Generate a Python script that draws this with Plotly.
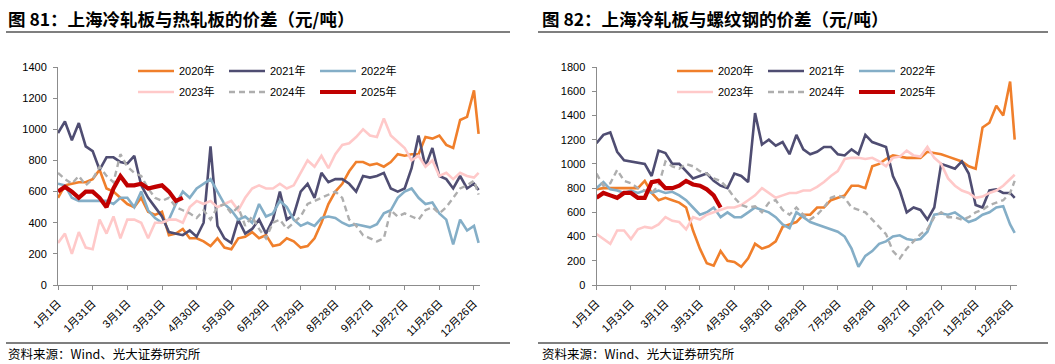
import plotly.graph_objects as go

W, H = 1055, 364

# x positions: day of year (leap-year base), sampled every 6 days + last day
DAYS = [0, 6, 12, 18, 24, 30, 36, 42, 48, 54,
        60, 66, 72, 78, 84, 90, 96, 102, 108, 114,
        120, 126, 132, 138, 144, 150, 156, 162, 168, 174,
        180, 186, 192, 198, 204, 210, 216, 222, 228, 234,
        240, 246, 252, 258, 264, 270, 276, 282, 288, 294,
        300, 306, 312, 318, 324, 330, 336, 342, 348, 354,
        360, 364]
DAYS_2025 = [0, 6, 12, 18, 24, 30, 36, 42, 48, 54,
             60, 66, 72, 78, 84, 90, 96, 102, 108]

TICK_DAYS = [0, 30, 60, 90, 120, 150, 180, 210, 240, 270, 300, 330, 360]
TICK_LABELS = ["1月1日", "1月31日", "3月1日", "3月31日", "4月30日", "5月30日",
               "6月29日", "7月29日", "8月28日", "9月27日", "10月27日",
               "11月26日", "12月26日"]

YEARS = ["2020年", "2021年", "2022年", "2023年", "2024年", "2025年"]

# ---- Chart 81: cold-rolled minus hot-rolled (Shanghai) ----
CR_HR_2020 = [560, 640, 650, 660, 660, 680, 740, 620, 600, 560,
              520, 500, 560, 470, 450, 470, 320, 330, 360, 300,
              300, 280, 250, 300, 240, 230, 300, 310, 340, 300,
              320, 250, 260, 300, 280, 240, 250, 300, 400, 520,
              600, 650, 730, 790, 790, 770, 780, 760, 790, 840,
              830, 840, 840, 950, 940, 960, 900, 880, 1060, 1080,
              1250, 970]
CR_HR_2021 = [976, 1050, 930, 1040, 890, 860, 740, 820, 820, 790,
              780, 830, 640, 560, 500, 440, 340, 330, 320, 350,
              310, 400, 890, 380, 300, 270, 420, 330, 360, 420,
              330, 420, 600, 420, 450, 600, 650, 560, 720, 660,
              680, 680, 650, 600, 700, 690, 700, 720, 620, 600,
              620, 750, 960, 760, 880, 700, 680, 620, 700, 620,
              650, 610]
CR_HR_2022 = [650, 640, 560, 540, 540, 540, 540, 540, 520, 560,
              560, 500, 600, 480, 430, 400, 420, 520, 600, 560,
              620, 650, 680, 600, 520, 480, 420, 440, 400, 520,
              440, 460, 540, 500, 420, 380, 400, 380, 430, 440,
              430, 400, 380, 390, 380, 370, 390, 460, 480, 560,
              600, 620, 560, 520, 530, 460, 420, 260, 420, 350,
              380, 270]
CR_HR_2023 = [270, 330, 200, 340, 240, 230, 420, 330, 440, 300,
              420, 420, 400, 300, 400, 400, 420, 420, 400, 500,
              540, 520, 540, 500, 520, 540, 480, 560, 620, 640,
              620, 620, 650, 620, 640, 720, 800, 760, 830, 750,
              840, 900, 910, 950, 1000, 960, 950, 1070, 960, 920,
              880, 800, 830, 760, 800, 700, 720, 680, 720, 700,
              690, 720]
CR_HR_2024 = [720, 680, 650, 700, 640, 680, 760, 700, 660, 840,
              760, 720, 700, 620, 560, 540, 560, 500, 480, 460,
              430, 480, 420, 500, 520, 460, 500, 380, 440, 360,
              300, 400, 420, 360, 400, 440, 520, 540, 560, 580,
              600, 560, 420, 380, 320, 300, 280, 300, 480, 440,
              460, 440, 420, 480, 500, 460, 500, 560, 620, 640,
              670, 580]
CR_HR_2025 = [600, 630, 600, 560, 600, 600, 560, 500, 620, 700,
              640, 640, 650, 620, 630, 640, 600, 540, 560]

# ---- Chart 82: cold-rolled minus rebar (Shanghai) ----
CR_RB_2020 = [790, 800, 800, 800, 800, 800, 800, 860, 760, 700,
              720, 700, 680, 640, 450, 300, 180, 160, 280, 200,
              190, 150, 220, 340, 300, 320, 360, 480, 500, 520,
              580, 580, 640, 640, 700, 720, 740, 820, 820, 800,
              980, 1000, 1040, 1070, 1060, 1050, 1050, 1050, 1100, 1090,
              1080, 1060, 1040, 1020, 980, 960, 1300, 1340, 1480, 1400,
              1680, 1200]
CR_RB_2021 = [1170, 1240, 1260, 1100, 1030, 1020, 1010, 1000, 900, 1110,
              1090, 1000, 1000, 940, 880, 900, 920, 860, 820, 800,
              920, 900, 850, 1420, 1160, 1200, 1150, 1180, 1080, 1240,
              1120, 1080, 1100, 1140, 1140, 1080, 1070, 1120, 1080, 1240,
              1180, 1160, 1140, 900, 780, 600, 640, 620, 540, 640,
              1000, 980, 960, 1020, 920, 660, 640, 780, 790, 760,
              760, 720]
CR_RB_2022 = [800, 850, 790, 780, 760, 780, 760, 780, 760, 780,
              760, 770, 740, 700, 640, 580, 600, 640, 560, 600,
              560, 560, 600, 640, 620, 600, 560, 500, 470, 600,
              560, 520, 500, 480, 460, 440, 400, 300, 150, 240,
              280, 340, 360, 400, 410, 380, 370, 380, 440, 580,
              590, 580, 600, 560, 520, 540, 580, 600, 640, 650,
              500, 430]
CR_RB_2023 = [420, 380, 340, 450, 450, 380, 460, 480, 470, 500,
              560, 530, 520, 460, 560, 540, 580, 600, 620, 640,
              640, 660, 700, 740, 800, 760, 720, 740, 760, 760,
              780, 780, 810, 850, 900, 940, 1040, 1050, 1050, 1040,
              1050, 1020, 980, 1050, 1060, 1110, 1070, 1060, 1140, 1050,
              1000, 880, 820, 780, 760, 720, 730, 760, 780, 820,
              870, 910]
CR_RB_2024 = [920, 820, 840, 950, 860, 840, 800, 780, 760, 820,
              1020, 980, 960, 1000, 980, 940, 920, 880, 860, 800,
              720, 660, 640, 650, 600, 680, 700, 620, 580, 640,
              580, 540, 580, 640, 720, 740, 720, 640, 620, 600,
              540, 480, 420, 280, 220, 300, 360, 420, 460, 560,
              600, 560, 560, 540, 560, 600, 620, 660, 680, 700,
              760, 860]
CR_RB_2025 = [720, 760, 740, 720, 760, 760, 720, 720, 850, 860,
              800, 800, 820, 860, 830, 820, 790, 740, 640]

COLORS = ["#F07F2B", "#4F4D72", "#84AEC7", "#FFC9C9", "#AEAEAE", "#C00000"]
WIDTHS = [2.6, 2.6, 2.6, 2.6, 2.4, 4.2]
DASHES = ["solid", "solid", "solid", "solid", "6px,4px", "solid"]

FONT = "Liberation Sans, Arial, Noto Sans CJK SC, sans-serif"
CJK = "Noto Sans CJK SC, sans-serif"

fig = go.Figure()

charts = [
    (["x", "y"], [CR_HR_2020, CR_HR_2021, CR_HR_2022, CR_HR_2023, CR_HR_2024, CR_HR_2025], ("legend", "legend2")),
    (["x2", "y2"], [CR_RB_2020, CR_RB_2021, CR_RB_2022, CR_RB_2023, CR_RB_2024, CR_RB_2025], ("legend3", "legend4")),
]
for (xa, ya), series, (lg1, lg2) in charts:
    for i, (name, vals) in enumerate(zip(YEARS, series)):
        xs = DAYS_2025 if i == 5 else DAYS
        fig.add_trace(go.Scatter(
            x=xs, y=vals, name=name, mode="lines", xaxis=xa, yaxis=ya,
            line=dict(color=COLORS[i], width=WIDTHS[i], dash=DASHES[i]),
            legend=lg1 if i < 3 else lg2, hoverinfo="skip"))

def px(x):
    return x / W

def py(y):
    return 1 - y / H

axis_common = dict(showgrid=False, zeroline=False, showline=True, linecolor="#8C8C8C",
                   linewidth=1, ticks="outside", ticklen=4, tickcolor="#8C8C8C",
                   automargin=False,
                   tickfont=dict(family=FONT, size=11, color="#000000"))

xcommon = dict(axis_common, tickvals=TICK_DAYS, ticktext=TICK_LABELS, tickangle=-45,
               ticklabelstandoff=3)

fig.update_layout(
    template="none",
    width=W, height=H, margin=dict(l=0, r=0, t=0, b=0, pad=0, autoexpand=False),
    paper_bgcolor="white", plot_bgcolor="white",
    xaxis=dict(xcommon, domain=[px(58), px(480)], range=[0, 365.2], anchor="y"),
    yaxis=dict(axis_common, domain=[py(285), py(67)], range=[0, 1400], dtick=200, anchor="x",
               ticklabelstandoff=4),
    xaxis2=dict(xcommon, domain=[px(596.5), px(1017)], range=[0, 366], anchor="y2"),
    yaxis2=dict(axis_common, domain=[py(285), py(67)], range=[0, 1800], dtick=200, anchor="x2",
                ticklabelstandoff=4),
    showlegend=True,
)

leg_common = dict(orientation="h", bgcolor="rgba(0,0,0,0)", borderwidth=0,
                  font=dict(family=FONT, size=11, color="#000000"),
                  xanchor="left", yanchor="middle", entrywidth=40, entrywidthmode="pixels",
                  itemwidth=36, tracegroupgap=0)
fig.update_layout(
    legend=dict(leg_common, x=px(133), y=py(71)),
    legend2=dict(leg_common, x=px(133), y=py(92)),
    legend3=dict(leg_common, x=px(672), y=py(71)),
    legend4=dict(leg_common, x=px(672), y=py(92)),
)

titles = [(6, "图 81：上海冷轧板与热轧板的价差（元/吨）"), (540, "图 82：上海冷轧板与螺纹钢的价差（元/吨）")]
for x0, t in titles:
    fig.add_annotation(text="<b>" + t + "</b>", x=px(x0), y=py(18), xref="paper", yref="paper",
                       xanchor="left", yanchor="middle", showarrow=False,
                       font=dict(family=CJK, size=17.5, color="#000000"))
    fig.add_annotation(text="资料来源：Wind、光大证券研究所", x=px(x0), y=py(353), xref="paper",
                       yref="paper", xanchor="left", yanchor="middle", showarrow=False,
                       font=dict(family=CJK, size=12.5, color="#000000"))

for x0, x1 in [(6, 510), (538, 1048)]:
    fig.add_shape(type="line", xref="paper", yref="paper", x0=px(x0), x1=px(x1),
                  y0=py(32), y1=py(32), line=dict(color="#555555", width=1.5))
    fig.add_shape(type="line", xref="paper", yref="paper", x0=px(x0), x1=px(x1),
                  y0=py(343), y1=py(343), line=dict(color="#555555", width=1.5))

fig.write_html("out.html",
               config={"displayModeBar": False, "staticPlot": True},
               post_script="document.body.style.margin='0';document.body.style.overflow='hidden';")
